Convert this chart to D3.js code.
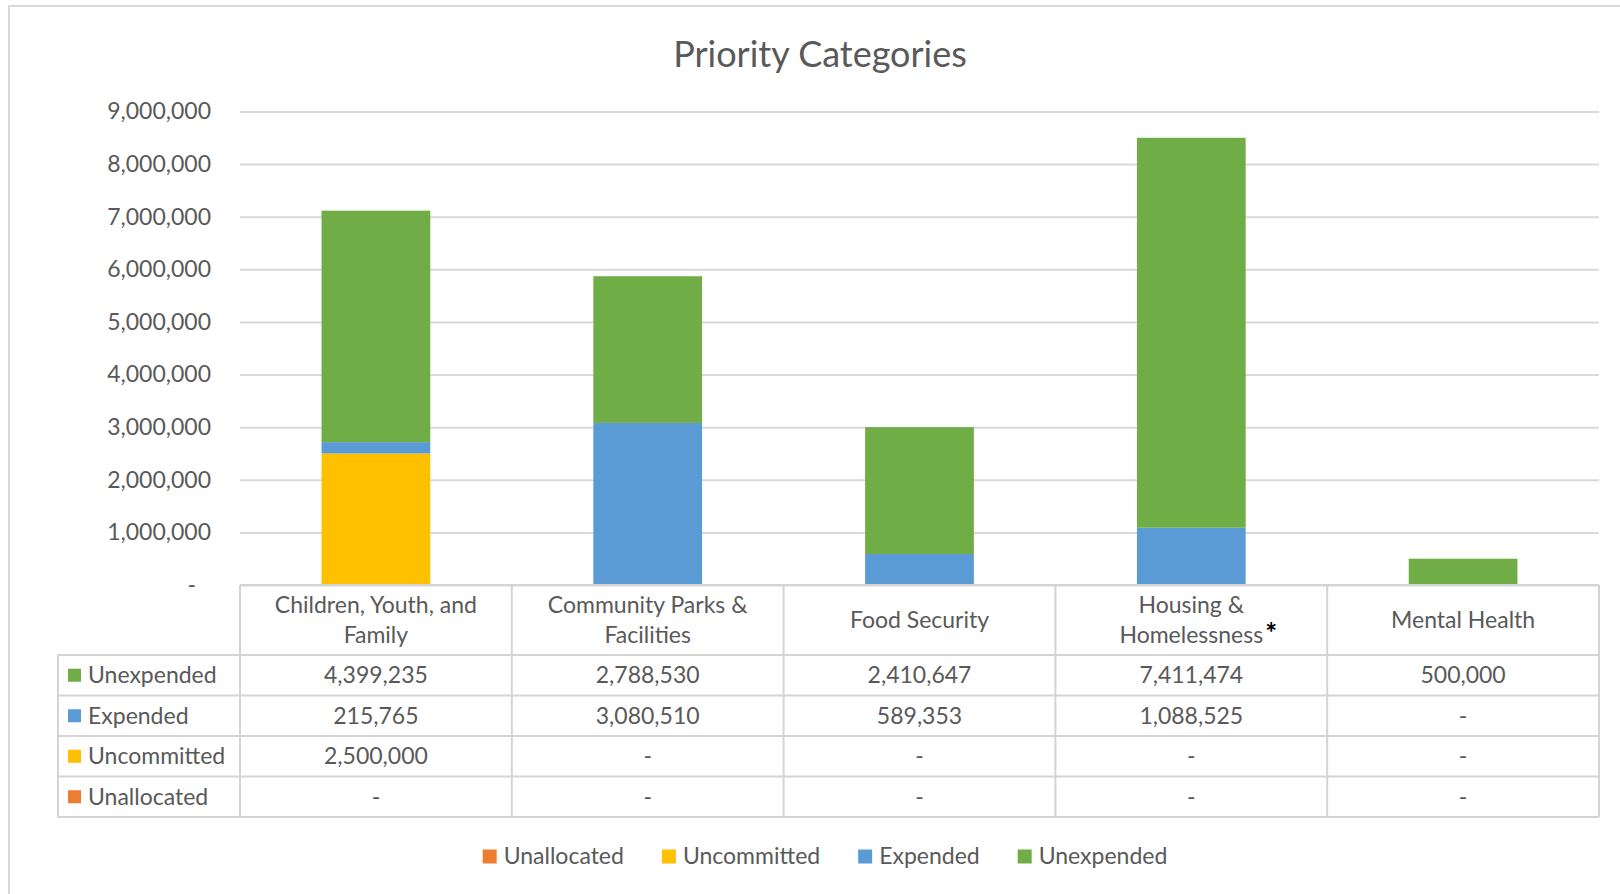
<!DOCTYPE html>
<html>
<head>
<meta charset="utf-8">
<script src="https://cdn.jsdelivr.net/npm/d3@7"></script>
<style>
  html, body { margin: 0; padding: 0; background: #fff; }
  svg { display: block; font-family: Lato, "Open Sans", sans-serif; }
</style>
</head>
<body>
<svg id="chart" width="1620" height="894"></svg>
<script>
// Data
const categories = ["Children, Youth, and Family", "Community Parks & Facilities", "Food Security", "Housing & Homelessness", "Mental Health"];
const headerLines = [["Children, Youth, and", "Family"], ["Community Parks &", "Facilities"], ["Food Security"], ["Housing &", "Homelessness"], ["Mental Health"]];
const unallocated = [0, 0, 0, 0, 0];
const uncommitted = [2500000, 0, 0, 0, 0];
const expended = [215765, 3080510, 589353, 1088525, 0];
const unexpended = [4399235, 2788530, 2410647, 7411474, 500000];
const yTicks = [0, 1000000, 2000000, 3000000, 4000000, 5000000, 6000000, 7000000, 8000000, 9000000];

// stack order bottom -> top
const series = [
    { name: "Unallocated", values: unallocated, color: "#ED7D31" },
    { name: "Uncommitted", values: uncommitted, color: "#FFC000" },
    { name: "Expended", values: expended, color: "#5B9BD5" },
    { name: "Unexpended", values: unexpended, color: "#70AD47" }
];

const textColor = "#595959";
const gridColor = "#D9D9D9";
const fontSize = 23;

const svg = d3.select("#chart");

// outer chart border
svg.append("rect")
    .attr("x", 9).attr("y", 6)
    .attr("width", 1700).attr("height", 1000)
    .attr("fill", "#fff")
    .attr("stroke", gridColor)
    .attr("stroke-width", 2);

// plot area
const plot = { left: 240, right: 1599, top: 111.5, bottom: 585 };
const plotW = plot.right - plot.left;

const x = d3.scaleBand()
    .domain(categories)
    .range([plot.left, plot.right])
    .padding(0);

const xBar = d3.scaleBand()
    .domain(categories)
    .range([plot.left, plot.right])
    .paddingInner(0.6)
    .paddingOuter(0.3);

const y = d3.scaleLinear()
    .domain([0, 9000000])
    .range([plot.bottom, plot.top]);

const fmt = v => v === 0 ? "-" : d3.format(",")(v);

// title
svg.append("text")
    .attr("x", 820)
    .attr("y", 54)
    .attr("dy", "0.35em")
    .attr("text-anchor", "middle")
    .attr("fill", textColor)
    .style("font-size", "36px")
    .text("Priority Categories");

// y axis with gridlines
const yAxis = svg.append("g")
    .attr("transform", `translate(${plot.left},0)`)
    .call(d3.axisLeft(y).tickValues(yTicks).tickFormat(fmt).tickSize(-plotW).tickPadding(29));

yAxis.select(".domain").remove();
yAxis.selectAll(".tick line")
    .attr("stroke", gridColor)
    .attr("stroke-width", 2);
yAxis.selectAll(".tick text")
    .attr("fill", textColor)
    .style("font-size", fontSize + "px")
    .style("font-family", "Lato, sans-serif")
    .attr("dx", d => d === 0 ? -15 : 0);

// stacked bars
const stackData = categories.map((c, i) => {
    const row = { category: c };
    series.forEach(s => { row[s.name] = s.values[i]; });
    return row;
});
const stacked = d3.stack().keys(series.map(s => s.name))(stackData);

svg.append("g")
    .selectAll("g")
    .data(stacked)
    .join("g")
    .attr("fill", (d, i) => series[i].color)
    .selectAll("rect")
    .data(d => d)
    .join("rect")
    .attr("x", d => xBar(d.data.category))
    .attr("width", xBar.bandwidth())
    .attr("y", d => y(d[1]))
    .attr("height", d => y(d[0]) - y(d[1]));

// data table
const table = svg.append("g");
const headerTop = plot.bottom;
const headerBottom = 655;
const rowH = 40.5;
const tableLeft = 58;
const rows = series.slice().reverse();
const tableBottom = headerBottom + rows.length * rowH;

const border = { stroke: "#D4D4D4", width: 2 };

// horizontal lines
table.append("line")
    .attr("x1", plot.left).attr("x2", plot.right)
    .attr("y1", headerTop).attr("y2", headerTop);
d3.range(rows.length + 1).forEach(i => {
    table.append("line")
        .attr("x1", tableLeft).attr("x2", plot.right)
        .attr("y1", headerBottom + i * rowH).attr("y2", headerBottom + i * rowH);
});
// vertical lines
table.append("line")
    .attr("x1", tableLeft).attr("x2", tableLeft)
    .attr("y1", headerBottom).attr("y2", tableBottom);
categories.forEach(c => {
    table.append("line")
        .attr("x1", x(c)).attr("x2", x(c))
        .attr("y1", headerTop).attr("y2", tableBottom);
});
table.append("line")
    .attr("x1", plot.right).attr("x2", plot.right)
    .attr("y1", headerTop).attr("y2", tableBottom);
table.selectAll("line")
    .attr("stroke", border.stroke)
    .attr("stroke-width", border.width);

// header labels
categories.forEach((c, i) => {
    const lines = headerLines[i];
    const cx = x(c) + x.bandwidth() / 2;
    const cy = (headerTop + headerBottom) / 2;
    const lh = 30.5;
    lines.forEach((line, j) => {
        const ly = cy + (j - (lines.length - 1) / 2) * lh;
        const t = table.append("text")
            .attr("x", cx)
            .attr("y", ly)
            .attr("dy", "0.35em")
            .attr("text-anchor", "middle")
            .attr("fill", textColor)
            .style("font-size", fontSize + "px")
            .text(line);
        // footnote mark after "Homelessness"
        if (c === "Housing & Homelessness" && j === lines.length - 1) {
            const w = t.node().getComputedTextLength();
            table.append("text")
                .attr("x", cx + w / 2 + 2)
                .attr("y", ly + 8)
                .attr("fill", "#000")
                .style("font-size", "28px")
                .style("font-weight", "bold")
                .text("*");
        }
    });
});

// rows
rows.forEach((s, r) => {
    const cy = headerBottom + r * rowH + rowH / 2;
    table.append("rect")
        .attr("x", 68).attr("y", cy - 6.5)
        .attr("width", 13).attr("height", 13)
        .attr("fill", s.color);
    table.append("text")
        .attr("x", 88).attr("y", cy)
        .attr("dy", "0.35em")
        .attr("fill", textColor)
        .style("font-size", fontSize + "px")
        .text(s.name);
    categories.forEach((c, i) => {
        table.append("text")
            .attr("x", x(c) + x.bandwidth() / 2)
            .attr("y", cy)
            .attr("dy", "0.35em")
            .attr("text-anchor", "middle")
            .attr("fill", textColor)
            .style("font-size", fontSize + "px")
            .text(fmt(s.values[i]));
    });
});

// legend
const legend = svg.append("g");
const legendGap = 38;
let lx = 0;
series.forEach(s => {
    const item = legend.append("g").attr("transform", `translate(${lx},0)`);
    item.append("rect")
        .attr("x", 0).attr("y", -6.5)
        .attr("width", 14).attr("height", 14)
        .attr("fill", s.color);
    const t = item.append("text")
        .attr("x", 21).attr("y", 0)
        .attr("dy", "0.35em")
        .attr("fill", textColor)
        .style("font-size", fontSize + "px")
        .text(s.name);
    lx += 21 + t.node().getComputedTextLength() + legendGap;
});
const legendW = lx - legendGap;
legend.attr("transform", `translate(${825 - legendW / 2},856)`);
</script>
</body>
</html>
